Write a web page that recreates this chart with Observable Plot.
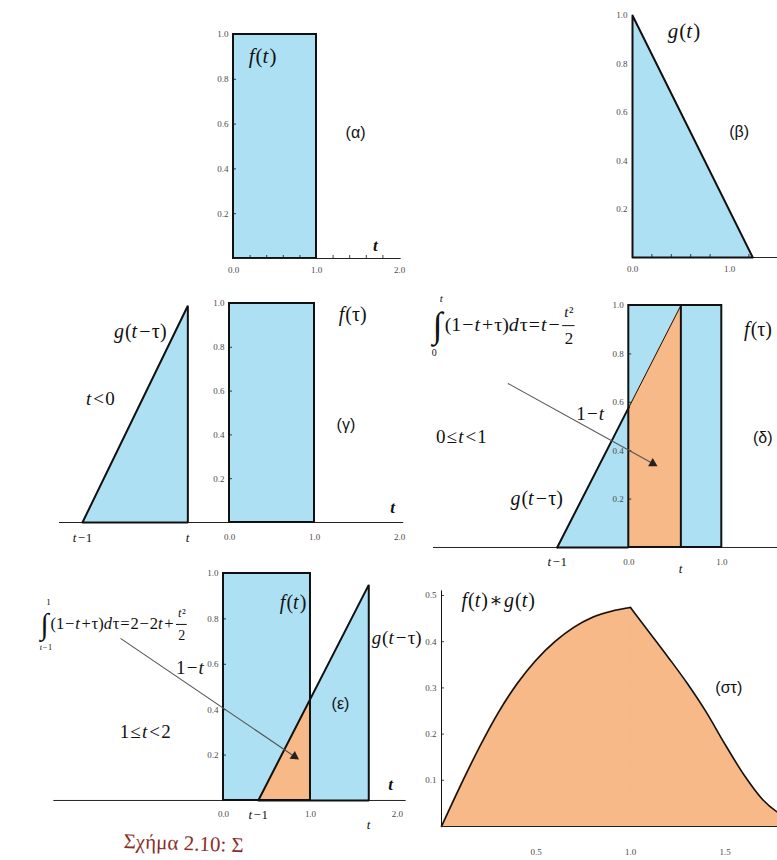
<!DOCTYPE html>
<html>
<head>
<meta charset="utf-8">
<script src="https://cdn.jsdelivr.net/npm/d3@7"></script>
<script src="https://cdn.jsdelivr.net/npm/@observablehq/plot@0.6"></script>
<style>
  body { margin: 0; background: #fff; }
  #fig { position: relative; width: 777px; height: 860px; overflow: hidden; background: #fff; }
  #fig svg { position: absolute; overflow: visible; background: transparent; max-width: none; }
  .caption { position: absolute; left: 124px; top: 831px; font: 21px "Liberation Serif", "DejaVu Serif", serif;
             color: #8c2f2b; white-space: nowrap; line-height: 1; transform: rotate(2deg); transform-origin: left top; }
</style>
</head>
<body>
<div id="fig"></div>
<script>
// ---------- data ----------
// f(t): unit pulse on [0, 1]
const fSupport = [0, 1];
const fLevel = 1;

// g(t) in (β): vertical edge at t = 0, falling to zero
const gTau = [0, 1.24];
const gVal = [1, 0];

// g(t − τ) slid along τ: [left foot t−1, right edge t] and apex height
const gammaFoot = [-1.73, -0.49];
const gammaApex = 0.99;
const deltaFoot = [-0.77, 0.56];
const deltaApex = 1.0;
const epsFoot = [0.40, 1.67];
const epsApex = 0.95;

// f(t) * g(t), peak (cusp) at t = 1
const convT   = [0, 0.1, 0.2, 0.3, 0.4, 0.5, 0.6, 0.7, 0.8, 0.9, 1.0, 1.1, 1.2, 1.3, 1.4, 1.5, 1.6, 1.7, 1.8, 1.9, 2.0];
const convVal = [0, 0.088, 0.171, 0.246, 0.309, 0.36, 0.4, 0.431, 0.453, 0.466, 0.474,
                 0.42, 0.366, 0.31, 0.248, 0.178, 0.112, 0.058, 0.025, 0.008, 0];
const convPeakT = 1.0;

// tick values
const unitTicks = [0.2, 0.4, 0.6, 0.8, 1.0];
const xTicks2 = [0, 1, 2];
const xTicks1 = [0, 1];
const minorTicks = [0.2, 0.4, 0.6, 0.8, 1.2, 1.4, 1.6, 1.8];
const convYTicks = [0.1, 0.2, 0.3, 0.4, 0.5];
const convXTicks = [0.5, 1.0, 1.5];

// ---------- drawing helpers ----------
const fig = document.getElementById("fig");
const BLUE = "#aee0f3", ORANGE = "#f6b987", INK = "#111", GREY = "#4a4a4a";
const SERIF = "Liberation Serif, DejaVu Serif, serif";
const SANS = "Liberation Sans, DejaVu Sans, sans-serif";
const fmt1 = d3.format(".1f");
const ctx = document.createElement("canvas").getContext("2d");
const textWidth = (s, size, italic) => { ctx.font = `${italic ? "italic " : ""}${size}px ${SERIF}`; return ctx.measureText(s).width; };

// each panel: pixel of the origin (x0, y0) and pixels per unit (kx, ky)
function place(cfg, marks) {
  const [xa, xb] = cfg.xDomain, [ya, yb] = cfg.yDomain;
  const svg = Plot.plot({
    width: (xb - xa) * cfg.kx,
    height: (yb - ya) * cfg.ky,
    margin: 0,
    x: {domain: cfg.xDomain, axis: null},
    y: {domain: cfg.yDomain, axis: null},
    style: {fontFamily: SERIF, fontSize: "9px", overflow: "visible", background: "transparent"},
    marks: marks.flat(Infinity)
  });
  svg.style.left = (cfg.x0 + xa * cfg.kx) + "px";
  svg.style.top = (cfg.y0 - yb * cfg.ky) + "px";
  fig.append(svg);
}

// math-style text: Latin letters italic, digits/Greek/brackets upright, operators spaced
function layout(text, size, pad) {
  const toks = text.match(/[A-Za-z]+|[−+=<≤∗]|[^A-Za-z−+=<≤∗]+/g);
  let x = 0;
  const out = toks.map(s => {
    const kind = /[A-Za-z]/.test(s) ? "it" : /^[−+=<≤∗]$/.test(s) ? "op" : "up";
    const p = kind === "op" ? pad * size : 0;
    const w = textWidth(s, size, kind === "it") + 2 * p + (kind === "it" ? 0.05 * size : 0);
    const t = {s, kind, off: x + p};
    x += w;
    return t;
  });
  return {toks: out, width: x};
}
function rich(x, y, text, size, {anchor = "middle", dx = 0, dy = 0, pad = 0.06, fill = INK} = {}) {
  const L = layout(text, size, pad);
  const start = anchor === "middle" ? -L.width / 2 : anchor === "end" ? -L.width : 0;
  return L.toks.map(t => Plot.text([{x, y}], {
    x: "x", y: "y", text: () => t.s, dx: dx + start + t.off, dy, textAnchor: "start",
    fontSize: size, fontFamily: SERIF, fontStyle: t.kind === "it" ? "italic" : "normal", fill
  }));
}

const label = (text, x, y, size = 20) => rich(x, y, text, size);
const tag = (text, x, y) =>
  Plot.text([{x, y, text}], {x: "x", y: "y", text: "text", fontFamily: SANS, fontSize: 16, fill: INK});
const axisT = (x, y) =>
  Plot.text([{x, y}], {x: "x", y: "y", text: () => "t", fontFamily: SERIF, fontSize: 17, fontStyle: "italic", fontWeight: "bold", fill: INK});

const xTickLabels = (ticks, dy) =>
  Plot.text(ticks, {x: d => d, y: () => 0, text: d => fmt1(d), dy, fontSize: 9, fill: GREY});
const symLabel = (at, text, dy) => rich(at, 0, text, 13, {dy, pad: 0.05});
const yTickLabels = (ticks) =>
  Plot.text(ticks, {x: () => 0, y: d => d, text: d => fmt1(d), textAnchor: "end", dx: -5, fontSize: 9, fill: GREY});
const yTickMarks = (cfg, ticks) =>
  Plot.ruleY(ticks, {y: d => d, x1: () => 0, x2: () => 3 / cfg.kx, stroke: INK, strokeWidth: 0.8});
const xMinorMarks = (cfg, ticks) =>
  Plot.ruleX(ticks, {x: d => d, y1: () => 0, y2: () => 3 / cfg.ky, stroke: INK, strokeWidth: 0.8});
const baseline = (x1, x2, w = 1) =>
  Plot.ruleY([0], {x1: () => x1, x2: () => x2, stroke: "#222", strokeWidth: w});

// f(t) rectangle, filled and outlined
const fRect = [{x1: fSupport[0], x2: fSupport[1], y1: 0, y2: fLevel}];
const fFill = Plot.rect(fRect, {x1: "x1", x2: "x2", y1: "y1", y2: "y2", fill: BLUE});
const fOutline = Plot.rect(fRect, {x1: "x1", x2: "x2", y1: "y1", y2: "y2", fill: "none", stroke: INK, strokeWidth: 2});

// sliding triangle g(t − τ): rises from its foot to the apex at τ = t
const triTop = (foot, apex) => [{x: foot[0], y: 0}, {x: foot[1], y: apex}];
const triFill = (foot, apex) => Plot.areaY(triTop(foot, apex), {x: "x", y: "y", fill: BLUE});
const triOutline = (foot, apex, w = 2) =>
  Plot.line([{x: foot[0], y: 0}, {x: foot[1], y: apex}, {x: foot[1], y: 0}, {x: foot[0], y: 0}],
    {x: "x", y: "y", stroke: INK, strokeWidth: w, strokeLinejoin: "miter"});

// overlap of f(τ) and g(t − τ)
function overlap(foot, apex) {
  const v = tau => apex * (tau - foot[0]) / (foot[1] - foot[0]);
  const a = Math.max(foot[0], fSupport[0]), b = Math.min(foot[1], fSupport[1]);
  return [{x: a, y: v(a)}, {x: b, y: v(b)}];
}

// integral formula laid out around an anchor (left of ∫, middle of the text line);
// the body is sized to span bodyWidth pixels
function integral(cfg, ax, ay, {upper, lower, body, num, den, bodyWidth}) {
  const pad = 0.05;
  const size = bodyWidth / (layout(body, 10, pad).width / 10);
  const bodyX = 0.6 * size;
  const fx = bodyX + bodyWidth + 2;
  const fw = Math.max(layout(num, 0.75 * size, 0).width, textWidth(den, 0.85 * size, false)) + 3;
  return [
    Plot.text([{x: ax, y: ay}], {x: "x", y: "y", text: () => "∫", dy: 1, fontSize: 1.8 * size, textAnchor: "start", fill: INK}),
    rich(ax, ay, upper, 0.55 * size, {anchor: "start", dx: 0.35 * size, dy: -1.3 * size, pad: 0.05}),
    rich(ax, ay, lower, 0.5 * size, {anchor: "start", dx: -0.05 * size, dy: 1.42 * size, pad: 0.05}),
    rich(ax, ay, body, size, {anchor: "start", dx: bodyX, pad}),
    rich(ax, ay, num, 0.75 * size, {dx: fx + fw / 2, dy: -0.6 * size, pad: 0}),
    Plot.ruleY([ay], {x1: () => ax + fx / cfg.kx, x2: () => ax + (fx + fw) / cfg.kx, stroke: INK, strokeWidth: 1, dy: 1}),
    Plot.text([{x: ax, y: ay}], {x: "x", y: "y", text: () => den, dx: fx + fw / 2, dy: 0.7 * size, fontSize: 0.85 * size, fill: INK})
  ];
}

// leader arrow with a filled head
function leader(cfg, x1, y1, x2, y2) {
  const angle = Math.atan2(-(y2 - y1) * cfg.ky, (x2 - x1) * cfg.kx) * 180 / Math.PI + 90;
  return [
    Plot.link([{x1, y1, x2, y2}], {x1: "x1", y1: "y1", x2: "x2", y2: "y2", stroke: "#555", strokeWidth: 1.1}),
    Plot.dot([{x: x2, y: y2}], {x: "x", y: "y", symbol: "triangle2", r: 4.5, fill: "#222", rotate: angle})
  ];
}

// ---------- (α) f(t) ----------
{
  const cfg = {x0: 233, kx: 83, y0: 258, ky: 224, xDomain: [0, 2], yDomain: [0, 1]};
  place(cfg, [
    fFill, fOutline,
    baseline(0, 2.02),
    xMinorMarks(cfg, minorTicks),
    yTickMarks(cfg, unitTicks),
    yTickLabels(unitTicks),
    xTickLabels(xTicks2, 12),
    label("f(t)", 0.35, 0.905, 21),
    tag("(α)", 1.47, 0.56),
    axisT(1.71, 0.058)
  ]);
}

// ---------- (β) g(t) ----------
{
  const cfg = {x0: 632, kx: 97, y0: 257, ky: 242, xDomain: [0, 1.5], yDomain: [0, 1]};
  const gPts = gTau.map((x, i) => ({x, y: gVal[i]}));
  place(cfg, [
    Plot.areaY(gPts, {x: "x", y: "y", fill: BLUE}),
    baseline(0, 1.5),
    Plot.line([{x: gTau[1], y: 0}, {x: gTau[0], y: 0}, ...gPts], {x: "x", y: "y", stroke: INK, strokeWidth: 2}),
    xMinorMarks(cfg, [0.2, 0.4, 0.6, 0.8, 1.2]),
    yTickLabels(unitTicks),
    xTickLabels(xTicks1, 12),
    label("g(t)", 0.53, 0.935, 21),
    tag("(β)", 1.10, 0.52)
  ]);
}

// ---------- (γ) t < 0 ----------
{
  const cfg = {x0: 229, kx: 85, y0: 522, ky: 219, xDomain: [-2, 2.1], yDomain: [0, 1]};
  place(cfg, [
    fFill, triFill(gammaFoot, gammaApex),
    baseline(-2.0, 2.05),
    fOutline, triOutline(gammaFoot, gammaApex),
    yTickMarks(cfg, unitTicks),
    yTickLabels(unitTicks),
    xTickLabels(xTicks2, 15),
    symLabel(gammaFoot[0], "t−1", 15),
    symLabel(gammaFoot[1], "t", 15),
    label("g(t−τ)", -1.05, 0.87),
    label("t<0", -1.52, 0.566, 19),
    label("f(τ)", 1.45, 0.95),
    tag("(γ)", 1.37, 0.445),
    axisT(1.92, 0.07)
  ]);
}

// ---------- (δ) 0 ≤ t < 1 ----------
{
  const cfg = {x0: 628, kx: 93, y0: 547, ky: 242, xDomain: [-2.1, 1.6], yDomain: [0, 1]};
  const ov = overlap(deltaFoot, deltaApex);
  place(cfg, [
    fFill, triFill(deltaFoot, deltaApex),
    Plot.areaY(ov, {x: "x", y: "y", fill: ORANGE}),
    baseline(-2.1, 1.6),
    fOutline,
    Plot.line([{x: deltaFoot[0], y: 0}, ov[0]], {x: "x", y: "y", stroke: INK, strokeWidth: 2}),
    Plot.line(ov, {x: "x", y: "y", stroke: INK, strokeWidth: 1}),
    Plot.ruleX([deltaFoot[1]], {y1: () => 0, y2: () => deltaApex, stroke: INK, strokeWidth: 2}),
    Plot.ruleY([0], {x1: () => deltaFoot[0], x2: () => 0, stroke: INK, strokeWidth: 2}),
    yTickMarks(cfg, unitTicks),
    yTickLabels(unitTicks),
    xTickLabels(xTicks1, 15),
    symLabel(deltaFoot[0], "t−1", 14),
    symLabel(deltaFoot[1], "t", 21),
    integral(cfg, -2.108, 0.921, {upper: "t", lower: "0", body: "(1−t+τ)dτ=t−", num: "t²", den: "2", bodyWidth: 116}),
    leader(cfg, -1.30, 0.678, 0.258, 0.347),
    label("1−t", -0.41, 0.554, 19),
    label("0≤t<1", -1.80, 0.455, 19),
    label("g(t−τ)", -0.99, 0.20),
    label("f(τ)", 1.39, 0.90),
    tag("(δ)", 1.44, 0.455)
  ]);
}

// ---------- (ε) 1 ≤ t < 2 ----------
{
  const cfg = {x0: 223, kx: 87, y0: 800, ky: 227, xDomain: [-2.0, 2.1], yDomain: [0, 1]};
  const ov = overlap(epsFoot, epsApex);
  place(cfg, [
    fFill, triFill(epsFoot, epsApex),
    Plot.areaY(ov, {x: "x", y: "y", fill: ORANGE}),
    baseline(-1.95, 2.1),
    fOutline, triOutline(epsFoot, epsApex),
    yTickMarks(cfg, unitTicks),
    yTickLabels(unitTicks),
    xTickLabels(xTicks2, 14),
    symLabel(epsFoot[0], "t−1", 14),
    symLabel(epsFoot[1], "t", 24),
    integral(cfg, -2.103, 0.78, {upper: "1", lower: "t−1", body: "(1−t+τ)dτ=2−2t+", num: "t²", den: "2", bodyWidth: 124}),
    leader(cfg, -1.184, 0.714, 0.816, 0.194),
    label("1−t", -0.38, 0.586, 19),
    label("1≤t<2", -0.90, 0.304, 19),
    label("f(t)", 0.80, 0.872),
    label("g(t−τ)", 1.99, 0.718, 19),
    tag("(ε)", 1.345, 0.427),
    axisT(1.92, 0.07)
  ]);
}

// ---------- (στ) f(t) * g(t) ----------
{
  const cfg = {x0: 441, kx: 189, y0: 826, ky: 462, xDomain: [0, 2], yDomain: [0, 0.5]};
  const conv = convT.map((t, i) => ({t, v: convVal[i]}));
  const pieces = [
    ...conv.filter(d => d.t <= convPeakT).map(d => ({...d, part: "rise"})),
    ...conv.filter(d => d.t >= convPeakT).map(d => ({...d, part: "fall"}))
  ];
  place(cfg, [
    Plot.area(pieces, {x1: "t", y1: () => 0, y2: "v", z: "part", fill: ORANGE, stroke: ORANGE, strokeWidth: 0.8, curve: "monotone-x"}),
    Plot.line(pieces, {x: "t", y: "v", z: "part", stroke: INK, strokeWidth: 1.6, curve: "monotone-x"}),
    baseline(0, 2, 1.2),
    Plot.ruleX([0], {y1: () => 0, y2: () => 0.51, stroke: INK, strokeWidth: 1}),
    yTickMarks(cfg, convYTicks),
    yTickLabels(convYTicks),
    xTickLabels(convXTicks, 26),
    label("f(t)∗g(t)", 0.30, 0.489),
    tag("(στ)", 1.52, 0.30)
  ]);
}

// caption under the figure
const cap = document.createElement("div");
cap.className = "caption";
cap.textContent = "Σχήμα 2.10: Σ";
fig.append(cap);
</script>
</body>
</html>
